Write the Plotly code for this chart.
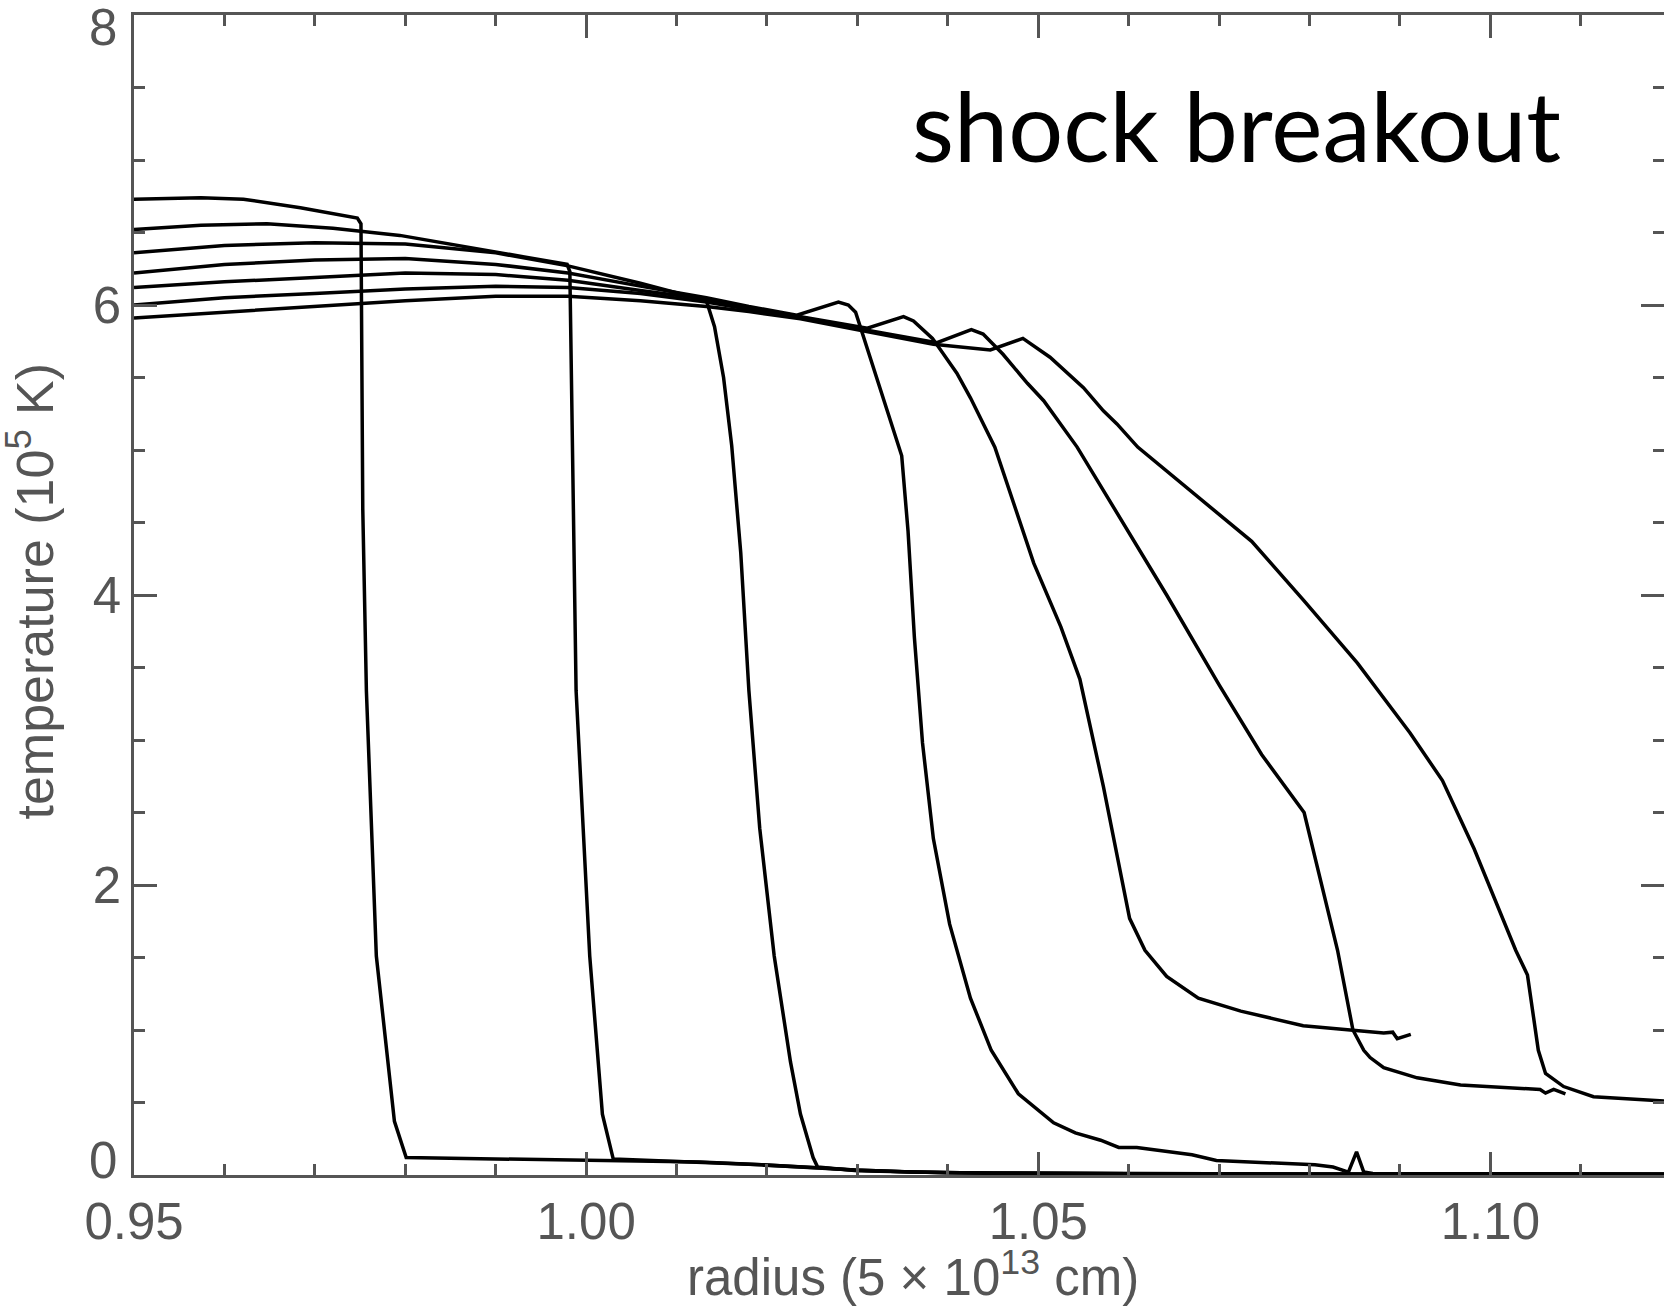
import plotly.graph_objects as go

# Temperature profiles (10^5 K) versus radius (5e13 cm) at successive times
r1 = [0.95, 0.9574, 0.9621, 0.9684, 0.9747, 0.9751, 0.9753, 0.9757, 0.9768, 0.9788, 0.9801,
      0.990, 1.003, 1.0126, 1.0194, 1.0256, 1.0297, 1.036, 1.045, 1.06, 1.08, 1.10, 1.1192]
t1 = [6.73, 6.74, 6.73, 6.67, 6.60, 6.56, 4.59, 3.34, 1.51, 0.37, 0.12,
      0.11, 0.10, 0.09, 0.07, 0.05, 0.034, 0.02, 0.012, 0.008, 0.006, 0.005, 0.005]

r2 = [0.95, 0.9574, 0.9647, 0.972, 0.9794, 0.9868, 0.9979, 0.9982, 0.99853, 0.99889, 1.0004,
      1.0018, 1.0030, 1.0126, 1.0194, 1.0256, 1.0297, 1.036, 1.045, 1.06, 1.08, 1.10, 1.1192]
t2 = [6.52, 6.55, 6.56, 6.53, 6.48, 6.40, 6.28, 6.23, 4.81, 3.34, 1.51,
      0.42, 0.11, 0.09, 0.07, 0.05, 0.034, 0.02, 0.012, 0.008, 0.006, 0.005, 0.005]

r3 = [0.95, 0.96, 0.97, 0.98, 0.99, 0.998, 1.006, 1.0133, 1.0142, 1.0152, 1.0161, 1.0171, 1.018,
      1.0192, 1.0208, 1.0226, 1.0237, 1.0251, 1.0256, 1.03, 1.04, 1.06, 1.08, 1.10, 1.1192]
t3 = [6.36, 6.41, 6.43, 6.42, 6.36, 6.27, 6.15, 6.03, 5.85, 5.50, 5.03, 4.29, 3.34,
      2.39, 1.51, 0.78, 0.42, 0.12, 0.055, 0.03, 0.015, 0.008, 0.006, 0.005, 0.005]

r4 = [0.95, 0.96, 0.97, 0.98, 0.99, 0.998, 1.006, 1.0133, 1.018, 1.0233, 1.0279, 1.029,
      1.0298, 1.0349, 1.0356, 1.0363, 1.0372, 1.0384, 1.0402, 1.0425, 1.0448, 1.0478,
      1.0517, 1.0541, 1.0569, 1.0589, 1.0609, 1.0643, 1.067, 1.0697, 1.0738, 1.0779,
      1.0806, 1.0826, 1.0843, 1.0852, 1.086, 1.087, 1.10, 1.1192]
t4 = [6.22, 6.28, 6.31, 6.32, 6.28, 6.22, 6.13, 6.05, 5.99, 5.93, 6.02, 6.00,
      5.95, 4.96, 4.44, 3.71, 2.98, 2.32, 1.73, 1.22, 0.86, 0.56,
      0.36, 0.29, 0.24, 0.19, 0.19, 0.16, 0.14, 0.10, 0.09, 0.076,
      0.07, 0.055, 0.02, 0.16, 0.02, 0.01, 0.008, 0.006]

r5 = [0.95, 0.96, 0.97, 0.98, 0.99, 0.998, 1.006, 1.0133, 1.018, 1.0237, 1.0303, 1.0311,
      1.0351, 1.0362, 1.0383, 1.0395, 1.041, 1.0425, 1.0452, 1.0495, 1.0525, 1.0546,
      1.0572, 1.0601, 1.0618, 1.0642, 1.0677, 1.0724, 1.0764, 1.0793, 1.0845, 1.0882,
      1.0892, 1.0897, 1.0912]
t5 = [6.12, 6.16, 6.19, 6.22, 6.21, 6.17, 6.10, 6.04, 5.98, 5.92, 5.85, 5.84,
      5.92, 5.89, 5.77, 5.66, 5.53, 5.36, 5.02, 4.22, 3.78, 3.42,
      2.68, 1.77, 1.55, 1.37, 1.22, 1.13, 1.07, 1.03, 1.00, 0.98,
      0.985, 0.94, 0.97]

r6 = [0.95, 0.96, 0.97, 0.98, 0.99, 0.998, 1.006, 1.0133, 1.018, 1.0237, 1.0303, 1.0388,
      1.0426, 1.0439, 1.0461, 1.0488, 1.0506, 1.0543, 1.0642, 1.070, 1.0747, 1.0794,
      1.0831, 1.0848, 1.086, 1.0867, 1.0882, 1.0919, 1.0967, 1.1055, 1.1061, 1.107, 1.1083]
t6 = [6.00, 6.05, 6.08, 6.11, 6.13, 6.12, 6.08, 6.02, 5.97, 5.915, 5.835, 5.74,
      5.83, 5.80, 5.66, 5.46, 5.34, 5.02, 4.00, 3.38, 2.90, 2.50,
      1.55, 1.00, 0.86, 0.81, 0.74, 0.67, 0.62, 0.59, 0.565, 0.59, 0.56]

r7 = [0.95, 0.96, 0.97, 0.98, 0.99, 0.998, 1.006, 1.0133, 1.018, 1.0237, 1.0303, 1.0384,
      1.0447, 1.0483, 1.0513, 1.055, 1.0572, 1.0587, 1.061, 1.0736, 1.0794, 1.0853,
      1.0911, 1.0947, 1.0982, 1.1028, 1.1041, 1.1053, 1.1061, 1.1081, 1.1114, 1.1192]
t7 = [5.91, 5.95, 5.99, 6.03, 6.06, 6.06, 6.03, 5.99, 5.955, 5.905, 5.825, 5.73,
      5.69, 5.77, 5.64, 5.43, 5.27, 5.18, 5.02, 4.37, 3.96, 3.53,
      3.05, 2.72, 2.25, 1.55, 1.38, 0.86, 0.70, 0.61, 0.54, 0.51]

profiles = [(r1, t1), (r2, t2), (r3, t3), (r4, t4), (r5, t5), (r6, t6), (r7, t7)]

x_range = [0.95, 1.1192]
y_range = [0, 8]
x_tickvals = [0.95, 1.00, 1.05, 1.10]
x_ticktext = ["0.95", "1.00", "1.05", "1.10"]
# interior y labels sit on the axis; the end labels are nudged inside the frame
y_tickvals = [2, 4, 6]
y_ticktext = ["2", "4", "6"]
y_end_vals = [0, 8]
y_end_text = ["0", "8"]

AXIS_GREY = "#555555"
SANS = "Liberation Sans, Arial, sans-serif"
TICK_FONT = dict(family=SANS, size=51, color=AXIS_GREY)

fig = go.Figure()
for r, t in profiles:
    fig.add_trace(go.Scatter(x=r, y=t, mode="lines",
                             line=dict(color="black", width=3.5),
                             showlegend=False, hoverinfo="skip"))

minor_x = dict(dtick=0.01, ticks="inside", ticklen=11, tickwidth=2.5, tickcolor=AXIS_GREY)
minor_y = dict(dtick=0.5, ticks="inside", ticklen=11, tickwidth=2.5, tickcolor=AXIS_GREY)

fig.update_layout(
    width=1664, height=1307,
    margin=dict(l=134, r=0, t=15, b=132),
    paper_bgcolor="white", plot_bgcolor="white",
    xaxis=dict(range=x_range, tickvals=x_tickvals, ticktext=x_ticktext,
               ticks="inside", ticklen=23, tickwidth=2.5, tickcolor=AXIS_GREY,
               showline=True, linecolor=AXIS_GREY, linewidth=2.5, mirror="ticks",
               showgrid=False, zeroline=False, tickfont=TICK_FONT,
               minor=minor_x, ticklabelstandoff=0),
    yaxis=dict(range=y_range, tickvals=y_tickvals, ticktext=y_ticktext,
               ticks="inside", ticklen=23, tickwidth=2.5, tickcolor=AXIS_GREY,
               showline=True, linecolor=AXIS_GREY, linewidth=2.5, mirror=False,
               showgrid=False, zeroline=False, tickfont=TICK_FONT,
               minor=minor_y, ticklabelstandoff=0),
    yaxis2=dict(range=y_range, overlaying="y", side="right", matches="y",
                tickvals=y_tickvals, showticklabels=False,
                ticks="inside", ticklen=23, tickwidth=2.5, tickcolor=AXIS_GREY,
                showline=False, showgrid=False, zeroline=False, minor=minor_y),
)

# invisible trace so the right-hand tick axis is drawn
fig.add_trace(go.Scatter(x=[x_range[0]], y=[0], yaxis="y2", mode="markers",
                         marker=dict(opacity=0), showlegend=False, hoverinfo="skip"))

# end labels of the temperature axis
for val, txt, ypix in zip(y_end_vals, y_end_text, [1160, 27]):
    fig.add_annotation(text=txt, xref="paper", yref="paper",
                       x=(119 - 134) / 1530, y=(1175 - ypix) / 1160,
                       xanchor="right", yanchor="middle", showarrow=False,
                       font=TICK_FONT)

fig.add_annotation(text="radius (5 × 10<sup>13</sup> cm)", xref="paper", yref="paper",
                   x=0.509, y=-0.0855, xanchor="center", yanchor="middle", showarrow=False,
                   font=dict(family=SANS, size=51, color=AXIS_GREY))
fig.add_annotation(text="temperature (10<sup>5</sup> K)", xref="paper", yref="paper",
                   x=-0.0673, y=0.503, xanchor="center", yanchor="middle", textangle=-90,
                   showarrow=False,
                   font=dict(family=SANS, size=52, color=AXIS_GREY))
fig.add_annotation(text="shock breakout", xref="paper", yref="paper",
                   x=0.934, y=0.906, xanchor="right", yanchor="middle", showarrow=False,
                   font=dict(family="Lato, sans-serif", size=97, color="black"))

fig.write_html("out.html")
